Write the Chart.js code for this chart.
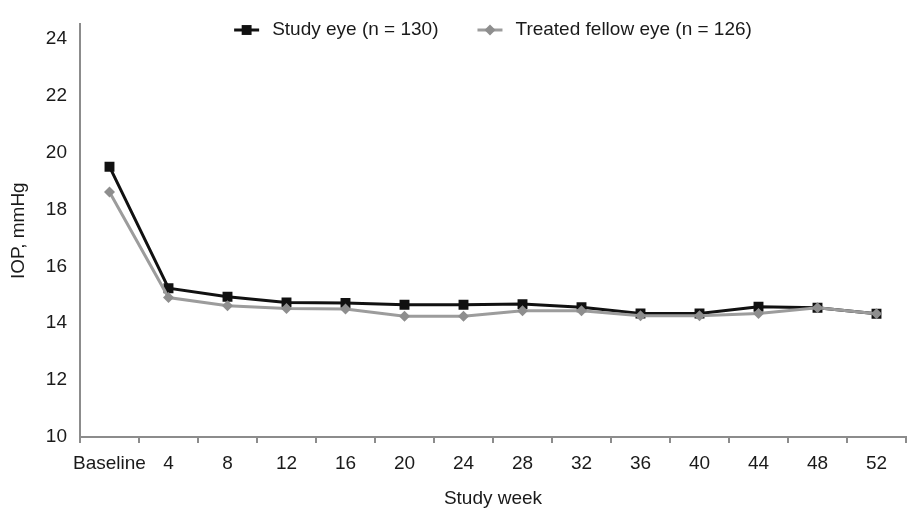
<!DOCTYPE html>
<html>
<head>
<meta charset="utf-8">
<script src="https://cdn.jsdelivr.net/npm/chart.js@4"></script>
<style>
  html, body { margin: 0; padding: 0; background: #fff; }
  #wrap { width: 907px; height: 511px; }
</style>
</head>
<body>
<div id="wrap"><canvas id="iopChart"></canvas></div>
<script>
// Dados
const weeks = ['Baseline', '4', '8', '12', '16', '20', '24', '28', '32', '36', '40', '44', '48', '52'];
const studyEye = [19.5, 15.23, 14.93, 14.73, 14.71, 14.65, 14.65, 14.67, 14.56, 14.34, 14.34, 14.58, 14.54, 14.33];
const fellowEye = [18.61, 14.9, 14.61, 14.52, 14.5, 14.24, 14.24, 14.44, 14.44, 14.26, 14.26, 14.34, 14.54, 14.33];
const yTicks = [10, 12, 14, 16, 18, 20, 22, 24];
const seriesNames = ['Study eye (n = 130)', 'Treated fellow eye (n = 126)'];

const FONT = '"Liberation Sans", Arial, sans-serif';
const TEXT = '#1a1a1a';
const AXIS = '#8c8c8c';

// Legenda desenhada à mão: linha + marcador, como no original
const lineLegend = {
    id: 'lineLegend',
    afterDraw(chart) {
        const ctx = chart.ctx;
        const area = chart.chartArea;
        ctx.save();
        ctx.font = '19px ' + FONT;
        ctx.textBaseline = 'middle';
        const seg = 25, gapText = 13, gapItem = 39;
        const items = chart.data.datasets.map(ds => ({ ds: ds, w: ctx.measureText(ds.label).width }));
        let total = 0;
        items.forEach((it, i) => { total += seg + gapText + it.w + (i ? gapItem : 0); });
        let x = (area.left + area.right) / 2 - total / 2;
        const y = 30;
        items.forEach(it => {
            const ds = it.ds;
            const cx = x + seg / 2;
            ctx.strokeStyle = ds.borderColor;
            ctx.lineWidth = 3;
            ctx.beginPath();
            ctx.moveTo(x, y);
            ctx.lineTo(x + seg, y);
            ctx.stroke();
            ctx.fillStyle = ds.pointBackgroundColor;
            ctx.beginPath();
            if (ds.pointStyle === 'rect') {
                const s = ds.pointRadius * Math.SQRT1_2;
                ctx.rect(cx - s, y - s, 2 * s, 2 * s);
            } else {
                const r = ds.pointRadius;
                ctx.moveTo(cx, y - r);
                ctx.lineTo(cx + r, y);
                ctx.lineTo(cx, y + r);
                ctx.lineTo(cx - r, y);
                ctx.closePath();
            }
            ctx.fill();
            ctx.fillStyle = TEXT;
            ctx.textAlign = 'left';
            ctx.fillText(ds.label, x + seg + gapText, y);
            x += seg + gapText + it.w + gapItem;
        });
        ctx.restore();
    }
};

document.addEventListener('DOMContentLoaded', function() {
    const ctx = document.getElementById('iopChart').getContext('2d');

    new Chart(ctx, {
        type: 'line',
        data: {
            labels: weeks,
            datasets: [{
                label: seriesNames[0],
                data: studyEye,
                borderColor: '#111111',
                backgroundColor: '#111111',
                pointBackgroundColor: '#111111',
                pointBorderColor: '#111111',
                borderWidth: 3,
                pointStyle: 'rect',
                pointRadius: 7,
                pointBorderWidth: 0,
                tension: 0,
                order: 1
            }, {
                label: seriesNames[1],
                data: fellowEye,
                borderColor: '#9c9c9c',
                backgroundColor: '#8e8e8e',
                pointBackgroundColor: '#8e8e8e',
                pointBorderColor: '#8e8e8e',
                borderWidth: 3,
                pointStyle: 'rectRot',
                pointRadius: 5.5,
                pointBorderWidth: 0,
                tension: 0,
                order: 0
            }]
        },
        options: {
            responsive: true,
            maintainAspectRatio: false,
            animation: false,
            layout: { autoPadding: false, padding: { top: 22, right: 1, left: 0, bottom: 0 } },
            plugins: {
                legend: { display: false },
                tooltip: { enabled: false }
            },
            scales: {
                x: {
                    offset: true,
                    border: { color: AXIS, width: 2 },
                    grid: {
                        offset: true,
                        drawOnChartArea: false,
                        drawTicks: true,
                        tickLength: 6,
                        color: AXIS,
                        lineWidth: 2
                    },
                    ticks: {
                        color: TEXT,
                        font: { family: FONT, size: 19 },
                        padding: 9,
                        maxRotation: 0,
                        autoSkip: false
                    },
                    title: {
                        display: true,
                        text: 'Study week',
                        color: TEXT,
                        font: { family: FONT, size: 19 },
                        padding: { top: 3, bottom: 1 }
                    },
                    afterFit: function(scale) {
                        scale.height = 74;
                        scale.paddingLeft = 0;
                        scale.paddingRight = 0;
                    }
                },
                y: {
                    min: 10,
                    max: 24.5,
                    border: { color: AXIS, width: 2 },
                    grid: { display: false, drawTicks: false },
                    afterBuildTicks: function(scale) {
                        scale.ticks = yTicks.map(v => ({ value: v }));
                    },
                    ticks: {
                        color: TEXT,
                        font: { family: FONT, size: 19 },
                        padding: 13
                    },
                    title: {
                        display: true,
                        text: 'IOP, mmHg',
                        color: TEXT,
                        font: { family: FONT, size: 19 },
                        padding: { top: 7, bottom: 7 }
                    },
                    afterFit: function(scale) { scale.width = 80; }
                }
            }
        },
        plugins: [lineLegend]
    });
});
</script>
</body>
</html>
